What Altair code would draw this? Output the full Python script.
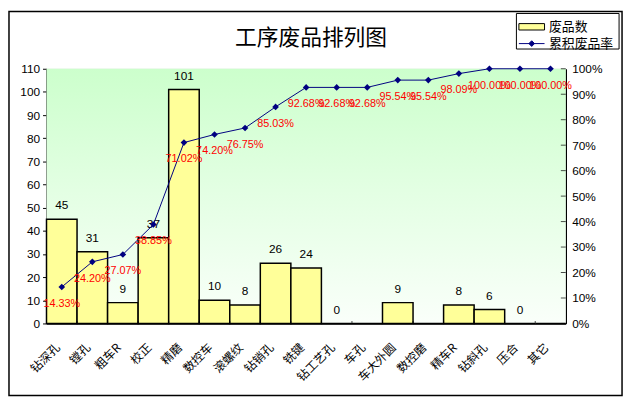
import altair as alt
import pandas as pd

categories = ["钻深孔", "镗孔", "粗车R", "校正", "精磨", "数控车", "滚螺纹", "钻销孔", "铣键",
              "钻工艺孔", "车孔", "车大外圆", "数控磨", "精车R", "钻斜孔", "压合", "其它"]
counts = [45, 31, 9, 37, 101, 10, 8, 26, 24, 0, 0, 9, 0, 8, 6, 0, 0]
count_labels = ["45", "31", "9", "37", "101", "10", "8", "26", "24", "0", "", "9", "", "8", "6", "0", ""]
cum_pct = [0.1433, 0.2420, 0.2707, 0.3885, 0.7102, 0.7420, 0.7675, 0.8503, 0.9268,
           0.9268, 0.9268, 0.9554, 0.9554, 0.9809, 1.0, 1.0, 1.0]
left_ticks = [0, 10, 20, 30, 40, 50, 60, 70, 80, 90, 100, 110]
right_ticks = [0, 0.1, 0.2, 0.3, 0.4, 0.5, 0.6, 0.7, 0.8, 0.9, 1.0]
title_text = "工序废品排列图"
series_names = ["废品数", "累积废品率"]

W, H = 526, 258
CJK = "Noto Sans CJK SC"
LAT = "Liberation Sans"

df = pd.DataFrame({"cat": categories, "count": counts, "label": count_labels, "cum": cum_pct})
ticks_df = pd.DataFrame({"t": right_ticks})

xenc = alt.X("cat:N", sort=categories,
             scale=alt.Scale(paddingInner=0, paddingOuter=0),
             axis=alt.Axis(title=None, labelAngle=-45, labelAlign="right", labelBaseline="middle",
                           labelFont=CJK, labelFontSize=12, labelColor="black",
                           labelPadding=22, labelOffset=-4, ticks=False,
                           domainColor="black", domainWidth=1.5, labelOverlap=False))

bg = alt.Chart(alt.Data(values=[{}])).mark_rect(
    fill=alt.Gradient(gradient="linear", x1=0, y1=0, x2=0, y2=1,
                      stops=[alt.GradientStop(color="#ccffcc", offset=0),
                             alt.GradientStop(color="#e4ffe4", offset=0.5),
                             alt.GradientStop(color="#fafffa", offset=1)])
).encode(x=alt.value(0), x2=alt.value(W), y=alt.value(0), y2=alt.value(H))

yleft = alt.Y("count:Q", scale=alt.Scale(domain=[0, 110]),
              axis=alt.Axis(title=None, values=left_ticks, orient="left", grid=False,
                            labelFont=LAT, labelFontSize=12, labelColor="black",
                            tickColor="black", tickSize=4, domainColor="black", domainWidth=1.5,
                            labelPadding=3))

bars = alt.Chart(df).mark_bar(stroke="black", strokeWidth=1.5).encode(
    x=xenc, y=yleft,
    fill=alt.Fill("s:N", scale=alt.Scale(domain=[series_names[0]], range=["#ffff99"]),
                  legend=alt.Legend(title=None, orient="none", legendX=478, legendY=-56,
                                    symbolType="M-1,-0.25H1V0.25H-1Z", symbolSize=676,
                                    symbolStrokeColor="black", symbolStrokeWidth=1,
                                    labelFont=CJK, labelFontSize=13, labelColor="black",
                                    labelOffset=4))
).transform_calculate(s="'" + series_names[0] + "'")

bar_text = alt.Chart(df).mark_text(dy=-14, font=LAT, fontSize=12, color="black").encode(
    x=xenc, y=yleft, text="label:N")

xticks = alt.Chart(df).mark_tick(color="black", size=5, thickness=1).encode(
    x=alt.X("cat:N", sort=categories, bandPosition=0), y=alt.value(H - 2.5))

left = alt.layer(bars, bar_text, xticks)

yright = alt.Y("cum:Q", scale=alt.Scale(domain=[0, 1]),
               axis=alt.Axis(title=None, values=right_ticks, orient="right", format=".0%", grid=False,
                             labelFont=LAT, labelFontSize=12, labelColor="black",
                             ticks=False, domainColor="black", domainWidth=1.5, labelPadding=6))

line = alt.Chart(df).mark_line(strokeWidth=1).encode(
    x=xenc, y=yright,
    stroke=alt.Stroke("s:N", scale=alt.Scale(domain=[series_names[1]], range=["#000080"]),
                      legend=alt.Legend(title=None, orient="none", legendX=478, legendY=-39,
                                        symbolType="M-1,0H1M-0.22,0L0,-0.22L0.22,0L0,0.22Z",
                                        symbolSize=676, symbolFillColor="#000080",
                                        symbolStrokeWidth=1,
                                        labelFont=CJK, labelFontSize=13, labelColor="black",
                                        labelOffset=4))
).transform_calculate(s="'" + series_names[1] + "'")

pts = alt.Chart(df).mark_point(shape="diamond", filled=True, size=45, color="#000080", opacity=1).encode(
    x=xenc, y=yright)

pct_text = alt.Chart(df).mark_text(dy=17, font=LAT, fontSize=11, color="red").encode(
    x=xenc, y=yright, text=alt.Text("cum:Q", format=".2%"))

rticks = alt.Chart(ticks_df).mark_tick(color="black", size=5, thickness=1, orient="horizontal").encode(
    y=alt.Y("t:Q", scale=alt.Scale(domain=[0, 1]), axis=None), x=alt.value(W - 2.5))

right = alt.layer(line, pts, pct_text)

frame = alt.Chart(alt.Data(values=[{}])).mark_rect(fill="transparent", stroke="black", strokeWidth=1.5).encode(
    x=alt.value(-38), x2=alt.value(583), y=alt.value(-58), y2=alt.value(331))

legend_box = alt.Chart(alt.Data(values=[{}])).mark_rect(fill="white", stroke="black", strokeWidth=1).encode(
    x=alt.value(476), x2=alt.value(580), y=alt.value(-56), y2=alt.value(-20))

title = alt.Chart(alt.Data(values=[{"t": title_text}])).mark_text(
    font=CJK, fontSize=22, color="black", align="center", baseline="middle"
).encode(x=alt.value(268), y=alt.value(-31), text="t:N")

chart = alt.layer(bg, legend_box, left, right, rticks, frame, title).resolve_scale(
    y="independent", fill="independent", stroke="independent"
).properties(
    width=W, height=H,
    autosize=alt.AutoSizeParams(type="none"),
    padding={"left": 39, "top": 59, "right": 60, "bottom": 76}
).configure_view(stroke="#808080", strokeWidth=1).configure(background="white")

chart.save("out.html", embed_options={"renderer": "svg", "actions": False})
